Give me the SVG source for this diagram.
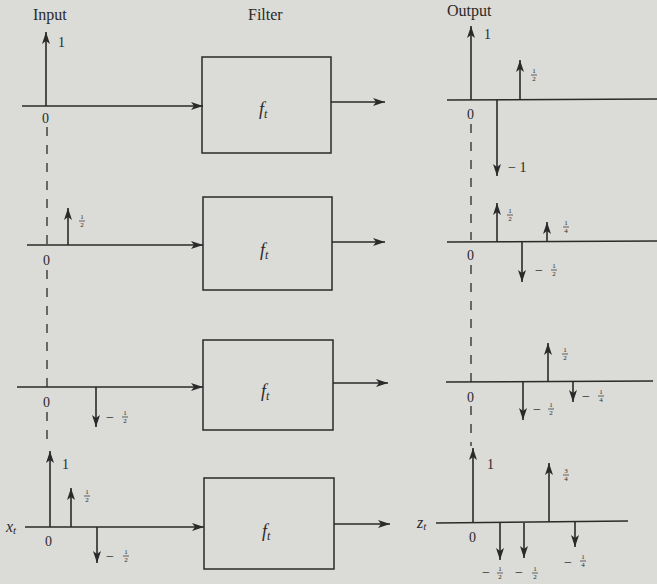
<svg xmlns="http://www.w3.org/2000/svg" width="657" height="584" viewBox="0 0 657 584">
<defs>
<marker id="ah" viewBox="0 0 12 8" refX="12" refY="4" markerWidth="12" markerHeight="8" markerUnits="userSpaceOnUse" orient="auto">
<path d="M0,0 L12,4 L0,8 L3,4 z" fill="#2a2a2a"/>
</marker>
<marker id="ih" viewBox="0 0 12 8" refX="12" refY="4" markerWidth="12" markerHeight="8" markerUnits="userSpaceOnUse" orient="auto">
<path d="M0,0 L12,4 L0,8 L3,4 z" fill="#2a2a2a"/>
</marker>
</defs>
<style>
.ax{stroke:#2a2a2a;stroke-width:1.6;fill:none}
.sig{stroke:#2a2a2a;stroke-width:1.6;fill:none;marker-end:url(#ah)}
.imp{stroke:#2a2a2a;stroke-width:1.6;fill:none;marker-end:url(#ih)}
.box{stroke:#2a2a2a;stroke-width:1.5;fill:none}
.dash{stroke:#2a2a2a;stroke-width:1.3;stroke-dasharray:9,9;fill:none}
.h{font-family:"Liberation Serif",serif;font-size:16px;fill:#2a2a2a}
.t{font-family:"Liberation Serif",serif;font-size:14px;fill:#2a2a2a}
.f{font-family:"Liberation Serif",serif;font-size:7px;fill:#2a2a2a;text-anchor:middle}
.bar{stroke:#2a2a2a;stroke-width:0.7}
.it{font-family:"Liberation Serif",serif;font-style:italic;font-size:18px;fill:#2a2a2a}
.iv{font-family:"Liberation Serif",serif;font-style:italic;font-size:16px;fill:#2a2a2a}
</style>
<rect width="657" height="584" fill="#dbdbd7"/>

<text class="h" x="33" y="20">Input</text>
<text class="h" x="248" y="20">Filter</text>
<text class="h" x="447" y="16">Output</text>

<g id="connectors">
<line class="sig" x1="22" y1="106" x2="203" y2="106"/>
<line class="sig" x1="331" y1="102" x2="385" y2="102"/>
<line class="sig" x1="27" y1="245" x2="203" y2="245"/>
<line class="sig" x1="332" y1="242" x2="385" y2="242"/>
<line class="sig" x1="17" y1="387" x2="203" y2="387"/>
<line class="sig" x1="333" y1="383" x2="388" y2="383"/>
<line class="sig" x1="25" y1="527" x2="204" y2="527"/>
<line class="sig" x1="334" y1="524" x2="390" y2="524"/>
</g>

<g id="filter1"><rect class="box" x="202" y="57" width="129" height="96"/><text class="it" x="259" y="115">f<tspan font-size="12" dy="3">t</tspan></text></g>
<g id="filter2"><rect class="box" x="203" y="197" width="129" height="93"/><text class="it" x="260" y="256">f<tspan font-size="12" dy="3">t</tspan></text></g>
<g id="filter3"><rect class="box" x="203" y="340" width="130" height="90"/><text class="it" x="261" y="397">f<tspan font-size="12" dy="3">t</tspan></text></g>
<g id="filter4"><rect class="box" x="204" y="478" width="130" height="91"/><text class="it" x="262" y="537">f<tspan font-size="12" dy="3">t</tspan></text></g>

<g id="input-dash">
<line class="dash" x1="47" y1="127" x2="47" y2="247"/>
<line class="dash" x1="47" y1="270" x2="47" y2="392"/>
<line class="dash" x1="47" y1="412" x2="47" y2="446"/>
</g>
<g id="output-dash">
<line class="dash" x1="471" y1="124" x2="471" y2="240"/>
<line class="dash" x1="471" y1="265" x2="471" y2="384"/>
<line class="dash" x1="471" y1="406" x2="471" y2="446"/>
</g>

<g id="input1">
<line class="imp" x1="46" y1="106" x2="46" y2="32"/>
<text class="t" x="58" y="47">1</text>
<text class="t" x="42" y="123">0</text>
</g>

<g id="output1">
<line class="ax" x1="447" y1="100" x2="657" y2="99"/>
<line class="imp" x1="471" y1="100" x2="471" y2="26"/>
<text class="t" x="484" y="39">1</text>
<line class="imp" x1="520" y1="100" x2="520" y2="60"/>
<text class="f" x="534" y="73">1</text><line class="bar" x1="531" y1="75" x2="537" y2="75"/><text class="f" x="534" y="81">2</text>
<line class="imp" x1="497" y1="100" x2="497" y2="176"/>
<text class="t" x="508" y="172">− 1</text>
<text class="t" x="467" y="119">0</text>
</g>

<g id="input2">
<line class="imp" x1="68" y1="245" x2="68" y2="208"/>
<text class="f" x="82" y="219">1</text><line class="bar" x1="79" y1="221" x2="85" y2="221"/><text class="f" x="82" y="227">2</text>
<text class="t" x="43" y="265">0</text>
</g>

<g id="output2">
<line class="ax" x1="447" y1="242" x2="657" y2="241"/>
<line class="imp" x1="497" y1="242" x2="497" y2="203"/>
<text class="f" x="510" y="213">1</text><line class="bar" x1="507" y1="215" x2="513" y2="215"/><text class="f" x="510" y="221">2</text>
<line class="imp" x1="547" y1="242" x2="547" y2="222"/>
<text class="f" x="566" y="225">1</text><line class="bar" x1="563" y1="227" x2="569" y2="227"/><text class="f" x="566" y="233">4</text>
<line class="imp" x1="522" y1="242" x2="522" y2="282"/>
<text class="t" x="535" y="275">−</text>
<text class="f" x="554" y="268">1</text><line class="bar" x1="551" y1="270" x2="557" y2="270"/><text class="f" x="554" y="276">2</text>
<text class="t" x="467" y="260">0</text>
</g>

<g id="input3">
<line class="imp" x1="96" y1="387" x2="96" y2="427"/>
<text class="t" x="106" y="422">−</text>
<text class="f" x="125" y="415">1</text><line class="bar" x1="122" y1="417" x2="128" y2="417"/><text class="f" x="125" y="423">2</text>
<text class="t" x="43" y="407">0</text>
</g>

<g id="output3">
<line class="ax" x1="446" y1="382" x2="653" y2="381"/>
<line class="imp" x1="548" y1="382" x2="548" y2="343"/>
<text class="f" x="565" y="352">1</text><line class="bar" x1="562" y1="354" x2="568" y2="354"/><text class="f" x="565" y="360">2</text>
<line class="imp" x1="523" y1="382" x2="523" y2="420"/>
<text class="t" x="533" y="414">−</text>
<text class="f" x="551" y="407">1</text><line class="bar" x1="548" y1="409" x2="554" y2="409"/><text class="f" x="551" y="415">2</text>
<line class="imp" x1="573" y1="382" x2="573" y2="402"/>
<text class="t" x="582" y="401">−</text>
<text class="f" x="601" y="394">1</text><line class="bar" x1="598" y1="396" x2="604" y2="396"/><text class="f" x="601" y="402">4</text>
<text class="t" x="467" y="402">0</text>
</g>

<g id="input4">
<text class="iv" x="6" y="532">x<tspan font-size="11" dy="2">t</tspan></text>
<line class="imp" x1="50" y1="527" x2="50" y2="451"/>
<text class="t" x="62" y="469">1</text>
<line class="imp" x1="71" y1="527" x2="71" y2="488"/>
<text class="f" x="87" y="494">1</text><line class="bar" x1="84" y1="496" x2="90" y2="496"/><text class="f" x="87" y="502">2</text>
<line class="imp" x1="97" y1="527" x2="97" y2="563"/>
<text class="t" x="106" y="561">−</text>
<text class="f" x="126" y="554">1</text><line class="bar" x1="123" y1="556" x2="129" y2="556"/><text class="f" x="126" y="562">2</text>
<text class="t" x="45" y="546">0</text>
</g>

<g id="output4">
<text class="iv" x="417" y="528">z<tspan font-size="11" dy="2">t</tspan></text>
<line class="ax" x1="436" y1="523" x2="628" y2="521"/>
<line class="imp" x1="473" y1="523" x2="473" y2="448"/>
<text class="t" x="487" y="469">1</text>
<line class="imp" x1="549" y1="522" x2="549" y2="463"/>
<text class="f" x="566" y="473">3</text><line class="bar" x1="563" y1="475" x2="569" y2="475"/><text class="f" x="566" y="481">4</text>
<line class="imp" x1="500" y1="523" x2="500" y2="560"/>
<line class="imp" x1="524" y1="523" x2="524" y2="558"/>
<line class="imp" x1="575" y1="522" x2="575" y2="547"/>
<text class="t" x="482" y="577">−</text>
<text class="f" x="500" y="571">1</text><line class="bar" x1="497" y1="573" x2="503" y2="573"/><text class="f" x="500" y="579">2</text>
<text class="t" x="515" y="577">−</text>
<text class="f" x="535" y="571">1</text><line class="bar" x1="532" y1="573" x2="538" y2="573"/><text class="f" x="535" y="579">2</text>
<text class="t" x="564" y="567">−</text>
<text class="f" x="583" y="559">1</text><line class="bar" x1="580" y1="561" x2="586" y2="561"/><text class="f" x="583" y="567">4</text>
<text class="t" x="469" y="542">0</text>
</g>
</svg>
